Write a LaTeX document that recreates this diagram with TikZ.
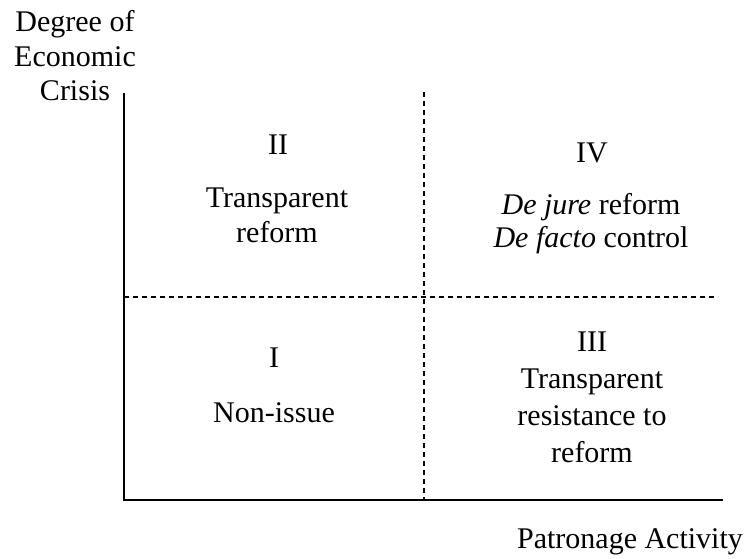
\documentclass[tikz,border=0pt]{standalone}
\usepackage{fontspec}
\setmainfont{Liberation Serif}
\begin{document}
\begin{tikzpicture}[x=1pt,y=-1pt,
  lbl/.style={inner sep=0pt,align=center,anchor=base,font=\fontsize{30}{35}\selectfont},
  wide/.style={font=\fontsize{30}{36.7}\selectfont},
  tight/.style={font=\fontsize{30}{32.5}\selectfont},
  axis/.style={line width=2pt,line join=miter},
  divider/.style={line width=1.5pt,dash pattern=on 5pt off 4pt}]
  \useasboundingbox (0,0) rectangle (744,559);
  % axes
  \coordinate (ytop) at (124,93);
  \coordinate (origin) at (124,500);
  \coordinate (xend) at (723,500);
  \draw[axis] (ytop) -- (origin) -- (xend);
  % quadrant dividers
  \coordinate (vtop) at (424,92);
  \coordinate (vbot) at (424,500);
  \coordinate (hleft) at (124,297);
  \coordinate (hright) at (718,297);
  \draw[divider] (vtop) -- (vbot);
  \draw[divider] (hleft) -- (hright);
  % axis titles (base anchor = baseline of the last line)
  \node[lbl,font=\fontsize{30}{34.5}\selectfont] (ylab) at (75,101) {Degree of\\Economic\\Crisis};
  \node[lbl] (xlab) at (630,548) {Patronage Activity};
  % quadrant II
  \node[lbl] (q2) at (278,154) {II};
  \node[lbl] (q2t) at (277,242) {Transparent\\reform};
  % quadrant IV
  \node[lbl] (q4) at (592,162) {IV};
  \node[lbl,tight] (q4t) at (591,247) {\textit{De jure} reform\\\textit{De facto} control};
  % quadrant I
  \node[lbl] (q1) at (274,367) {I};
  \node[lbl] (q1t) at (274,422) {Non-issue};
  % quadrant III
  \node[lbl,wide] (q3) at (592,462) {III\\Transparent\\resistance to\\reform};
\end{tikzpicture}
\end{document}
